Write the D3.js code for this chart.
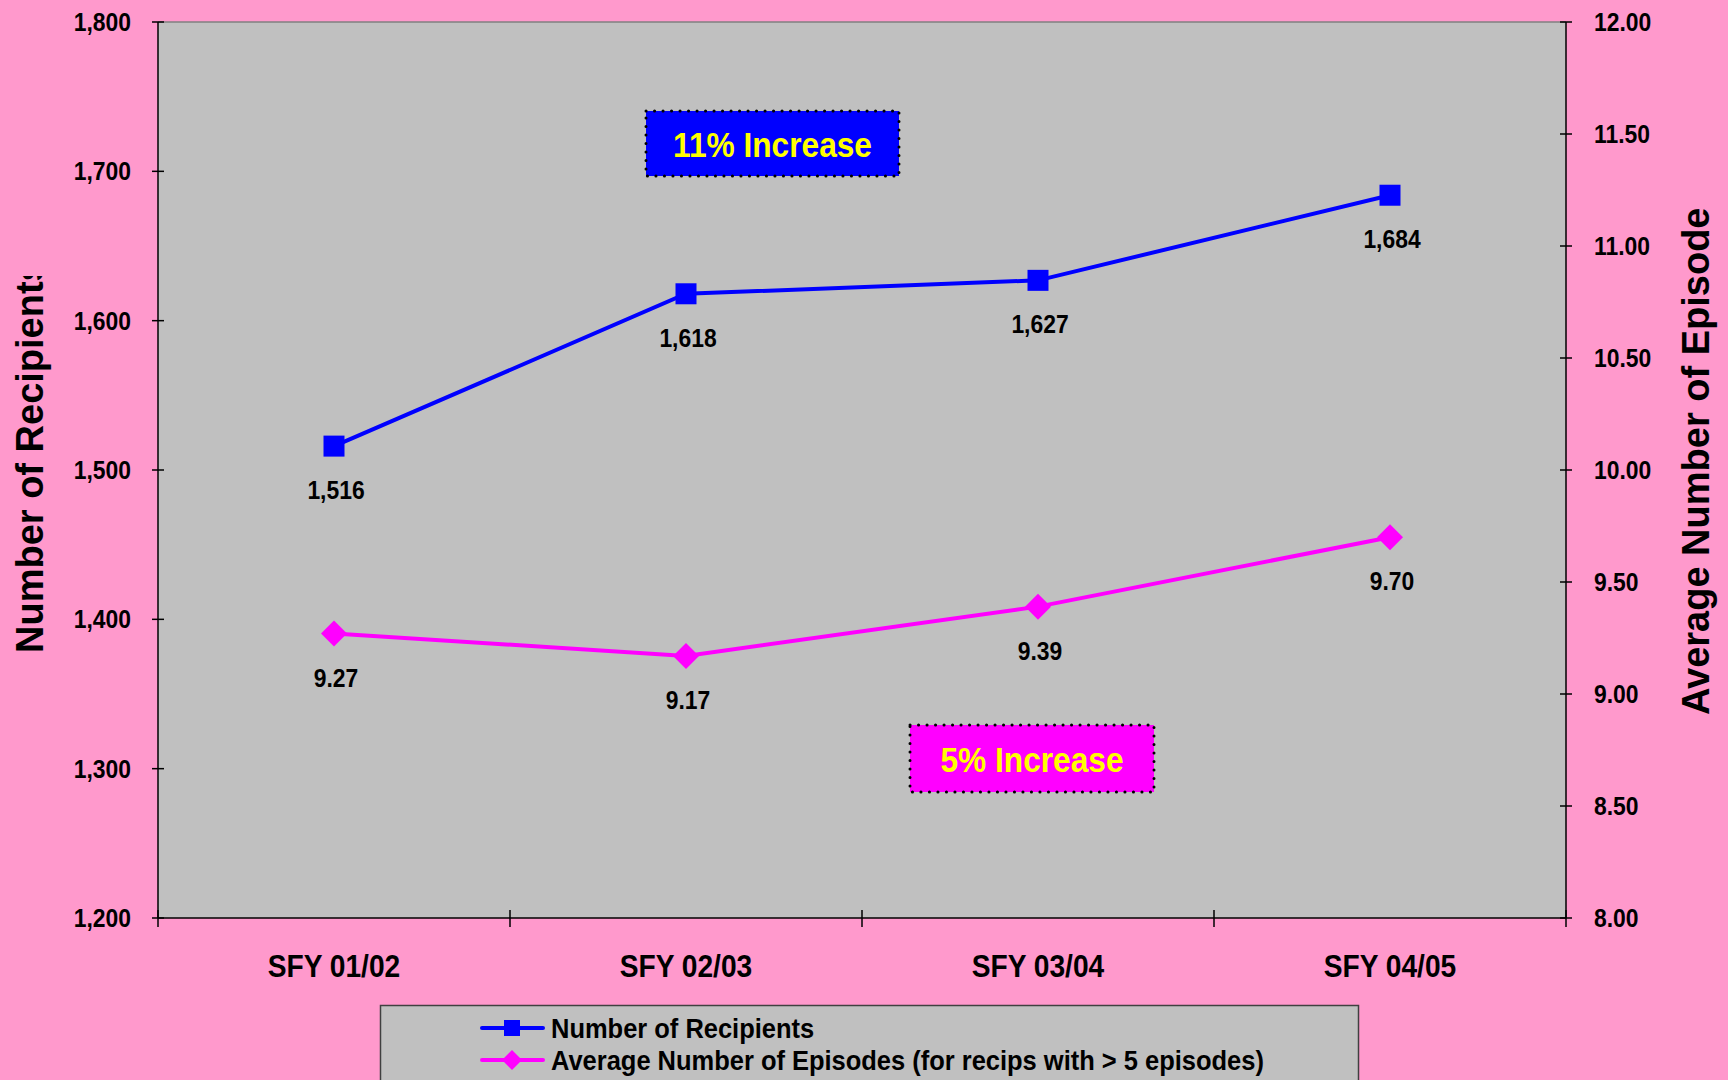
<!DOCTYPE html>
<html>
<head>
<meta charset="utf-8">
<script src="https://cdn.jsdelivr.net/npm/d3@7"></script>
<style>
  html, body { margin: 0; padding: 0; background: #FF99CC; }
  svg { display: block; }
  text { font-family: "Liberation Sans", Arial, sans-serif; font-weight: bold; }
</style>
</head>
<body>
<svg id="chart" width="1728" height="1080"></svg>
<script>
// data
const years = ["SFY 01/02", "SFY 02/03", "SFY 03/04", "SFY 04/05"];
const recipients = [1516, 1618, 1627, 1684];
const episodes = [9.27, 9.17, 9.39, 9.70];
const leftTicks = [1200, 1300, 1400, 1500, 1600, 1700, 1800];
const rightTicks = [8, 8.5, 9, 9.5, 10, 10.5, 11, 11.5, 12];
const legendLabels = ["Number of Recipients", "Average Number of Episodes (for recips with > 5 episodes)"];

const W = 1728, H = 1080;
const plot = { left: 158, right: 1566, top: 22, bottom: 918 };
const squeeze = 0.88; // the original text is drawn a bit narrow

const svg = d3.select("#chart");

const x = d3.scaleBand().domain(years).range([plot.left, plot.right]).padding(0);
const xc = d => x(d) + x.bandwidth() / 2;
const yL = d3.scaleLinear().domain([1200, 1800]).range([plot.bottom, plot.top]);
const yR = d3.scaleLinear().domain([8, 12]).range([plot.bottom, plot.top]);

// narrow text helper
function label(parent, tx, ty, str, size, anchor, fill, sx) {
    const g = parent.append("g").attr("transform", `translate(${tx},${ty})`);
    g.append("text")
        .attr("transform", `scale(${sx || squeeze},1)`)
        .attr("text-anchor", anchor)
        .attr("font-size", size)
        .attr("fill", fill || "#000")
        .text(str);
    return g;
}

svg.append("rect").attr("width", W).attr("height", H).attr("fill", "#FF99CC");

// plot area
svg.append("rect")
    .attr("x", plot.left).attr("y", plot.top)
    .attr("width", plot.right - plot.left).attr("height", plot.bottom - plot.top)
    .attr("fill", "#C0C0C0");
svg.append("line")
    .attr("x1", plot.left).attr("x2", plot.right)
    .attr("y1", plot.top).attr("y2", plot.top)
    .attr("stroke", "#808080").attr("stroke-width", 1.5);

// axes lines
const axisG = svg.append("g").attr("stroke", "#000").attr("stroke-width", 1.5);
axisG.append("line").attr("x1", plot.left).attr("x2", plot.left).attr("y1", plot.top).attr("y2", plot.bottom);
axisG.append("line").attr("x1", plot.right).attr("x2", plot.right).attr("y1", plot.top).attr("y2", plot.bottom);
axisG.append("line").attr("x1", plot.left).attr("x2", plot.right).attr("y1", plot.bottom).attr("y2", plot.bottom);

// left ticks
leftTicks.forEach(t => {
    axisG.append("line").attr("x1", plot.left - 6).attr("x2", plot.left + 6)
        .attr("y1", yL(t)).attr("y2", yL(t));
    label(svg, 131, yL(t) + 9, d3.format(",")(t), 26, "end");
});

// right ticks
rightTicks.forEach(t => {
    axisG.append("line").attr("x1", plot.right - 6).attr("x2", plot.right + 6)
        .attr("y1", yR(t)).attr("y2", yR(t));
    label(svg, 1594, yR(t) + 9, d3.format(".2f")(t), 26, "start");
});

// x ticks at category boundaries
years.concat([null]).forEach(c => {
    const px = c ? x(c) : plot.right;
    axisG.append("line").attr("x1", px).attr("x2", px)
        .attr("y1", plot.bottom - 8).attr("y2", plot.bottom + 9);
});
years.forEach(c => label(svg, xc(c), 977, c, 32, "middle"));

// axis titles (clipped like the original)
const defs = svg.append("defs");
defs.append("clipPath").attr("id", "clipL")
    .append("rect").attr("x", 0).attr("y", 276).attr("width", 80).attr("height", 500);
defs.append("clipPath").attr("id", "clipR")
    .append("rect").attr("x", 1660).attr("y", 209).attr("width", 68).attr("height", 600);

svg.append("g").attr("clip-path", "url(#clipL)")
    .append("text")
    .attr("transform", "translate(43,653) rotate(-90)")
    .attr("font-size", 38)
    .text("Number of Recipients");
svg.append("g").attr("clip-path", "url(#clipR)")
    .append("text")
    .attr("transform", "translate(1709,715) rotate(-90)")
    .attr("font-size", 38)
    .text("Average Number of Episodes");

// series lines
const line1 = d3.line().x((d, i) => xc(years[i])).y(d => yL(d));
const line2 = d3.line().x((d, i) => xc(years[i])).y(d => yR(d));

svg.append("path").datum(recipients).attr("d", line1)
    .attr("fill", "none").attr("stroke", "#0000FF").attr("stroke-width", 4);
svg.append("path").datum(episodes).attr("d", line2)
    .attr("fill", "none").attr("stroke", "#FF00FF").attr("stroke-width", 4);

const sq = 21, dm = 13;
svg.selectAll(".sq").data(recipients).enter().append("rect")
    .attr("x", (d, i) => xc(years[i]) - sq / 2).attr("y", d => yL(d) - sq / 2)
    .attr("width", sq).attr("height", sq).attr("fill", "#0000FF");
svg.selectAll(".dm").data(episodes).enter().append("path")
    .attr("d", (d, i) => {
        const cx = xc(years[i]), cy = yR(d);
        return `M${cx},${cy - dm}L${cx + dm},${cy}L${cx},${cy + dm}L${cx - dm},${cy}Z`;
    })
    .attr("fill", "#FF00FF");

// data labels
recipients.forEach((d, i) => label(svg, xc(years[i]) + 2, yL(d) + 53, d3.format(",")(d), 26, "middle"));
episodes.forEach((d, i) => label(svg, xc(years[i]) + 2, yR(d) + 53, d3.format(".2f")(d), 26, "middle"));

// annotation boxes
function callout(bx, by, bw, bh, fill, str) {
    svg.append("rect").attr("x", bx).attr("y", by).attr("width", bw).attr("height", bh)
        .attr("fill", fill).attr("stroke", "#000").attr("stroke-width", 3)
        .attr("stroke-dasharray", "0.1 8.4").attr("stroke-linecap", "round");
    label(svg, bx + bw / 2, by + bh / 2 + 13, str, 36, "middle", "#FFFF00");
}
callout(646, 111, 253, 65, "#0000FF", "11% Increase");
callout(910, 725, 244, 67, "#FF00FF", "5% Increase");

// legend
const lg = svg.append("g");
lg.append("rect").attr("x", 380.5).attr("y", 1005.5).attr("width", 978).attr("height", 100)
    .attr("fill", "#C0C0C0").attr("stroke", "#404040").attr("stroke-width", 1.5);
const rows = [
    { y: 1028, color: "#0000FF", shape: "square" },
    { y: 1060, color: "#FF00FF", shape: "diamond" }
];
rows.forEach((r, i) => {
    lg.append("line").attr("x1", 482).attr("x2", 543).attr("y1", r.y).attr("y2", r.y)
        .attr("stroke", r.color).attr("stroke-width", 4).attr("stroke-linecap", "round");
    if (r.shape === "square") {
        lg.append("rect").attr("x", 512 - 8).attr("y", r.y - 8).attr("width", 16).attr("height", 16).attr("fill", r.color);
    } else {
        lg.append("path").attr("d", `M512,${r.y - 10}L522,${r.y}L512,${r.y + 10}L502,${r.y}Z`).attr("fill", r.color);
    }
    label(lg, 551, r.y + 10, legendLabels[i], 28, "start", "#000", 0.91);
});
</script>
</body>
</html>
